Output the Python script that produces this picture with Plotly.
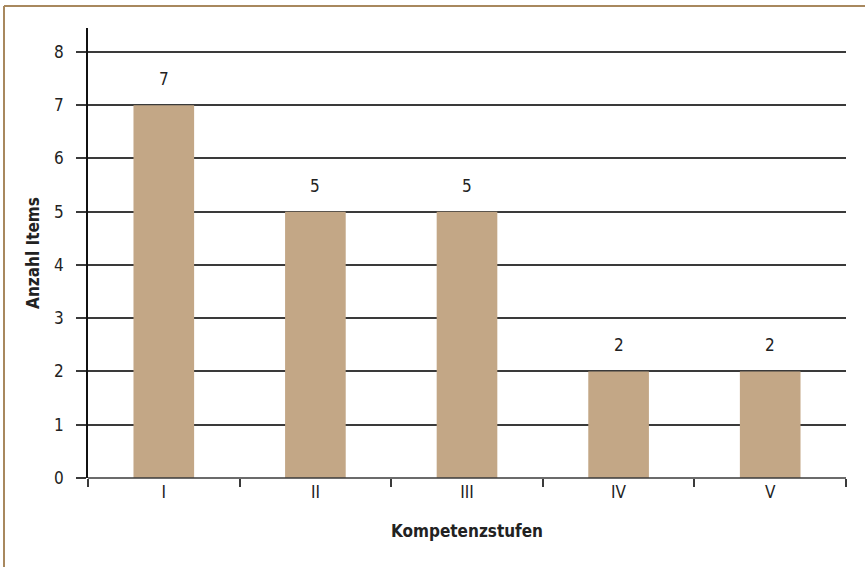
import plotly.graph_objects as go

categories = ["I", "II", "III", "IV", "V"]
values = [7, 5, 5, 2, 2]
y_ticks = [0, 1, 2, 3, 4, 5, 6, 7, 8]

FONT = "DejaVu Sans Condensed, Liberation Sans Narrow, sans-serif"
BAR = "#C3A786"
GRID = "#3a3a3a"
FRAME = "#A8885E"
TXT = "#222"

fig = go.Figure()
fig.add_trace(go.Bar(
    x=categories, y=values, marker=dict(color=BAR, line=dict(width=0)),
    width=0.4, hoverinfo="skip",
))

for c, v in zip(categories, values):
    fig.add_annotation(x=c, y=v, text=str(v), showarrow=False, yshift=26,
                       font=dict(family=FONT, size=17, color=TXT))

fig.update_layout(
    width=865, height=567,
    margin=dict(l=88, r=19, t=28, b=89),
    paper_bgcolor="white", plot_bgcolor="white",
    font=dict(family=FONT, size=17, color=TXT),
    showlegend=False,
    xaxis=dict(
        type="category", range=[-0.5, 4.5],
        tickson="boundaries", ticks="outside", ticklen=8, tickcolor=GRID, tickwidth=1.5,
        showline=False, showgrid=False, zeroline=False,
        title=dict(text="<b>Kompetenzstufen</b>", font=dict(family=FONT, size=17, color=TXT), standoff=24),
        tickfont=dict(family=FONT, size=17, color=TXT),
        ticklabelstandoff=2,
    ),
    yaxis=dict(
        range=[0, 8.45], tickvals=y_ticks,
        ticks="outside", ticklen=10, tickcolor=GRID, tickwidth=1.5,
        showgrid=True, gridcolor=GRID, gridwidth=1.5,
        showline=True, linecolor="#111", linewidth=1.5,
        zeroline=False,
        title=dict(text="<b>Anzahl Items</b>", font=dict(family=FONT, size=17, color=TXT), standoff=10),
        tickfont=dict(family=FONT, size=17, color=TXT),
        ticklabelstandoff=9,
    ),
    shapes=[
        dict(type="line", xref="paper", yref="paper", x0=-84/758, x1=1 + 19/758, y0=1 + 22/450, y1=1 + 22/450,
             line=dict(color=FRAME, width=2)),
        dict(type="line", xref="paper", yref="paper", x0=-84/758, x1=-84/758, y0=1 + 22/450, y1=-89/450,
             line=dict(color=FRAME, width=2)),
        dict(type="line", xref="paper", yref="paper", x0=0, x1=1, y0=0, y1=0,
             line=dict(color=GRID, width=1.5)),
    ],
)

fig.write_html("out.html")
